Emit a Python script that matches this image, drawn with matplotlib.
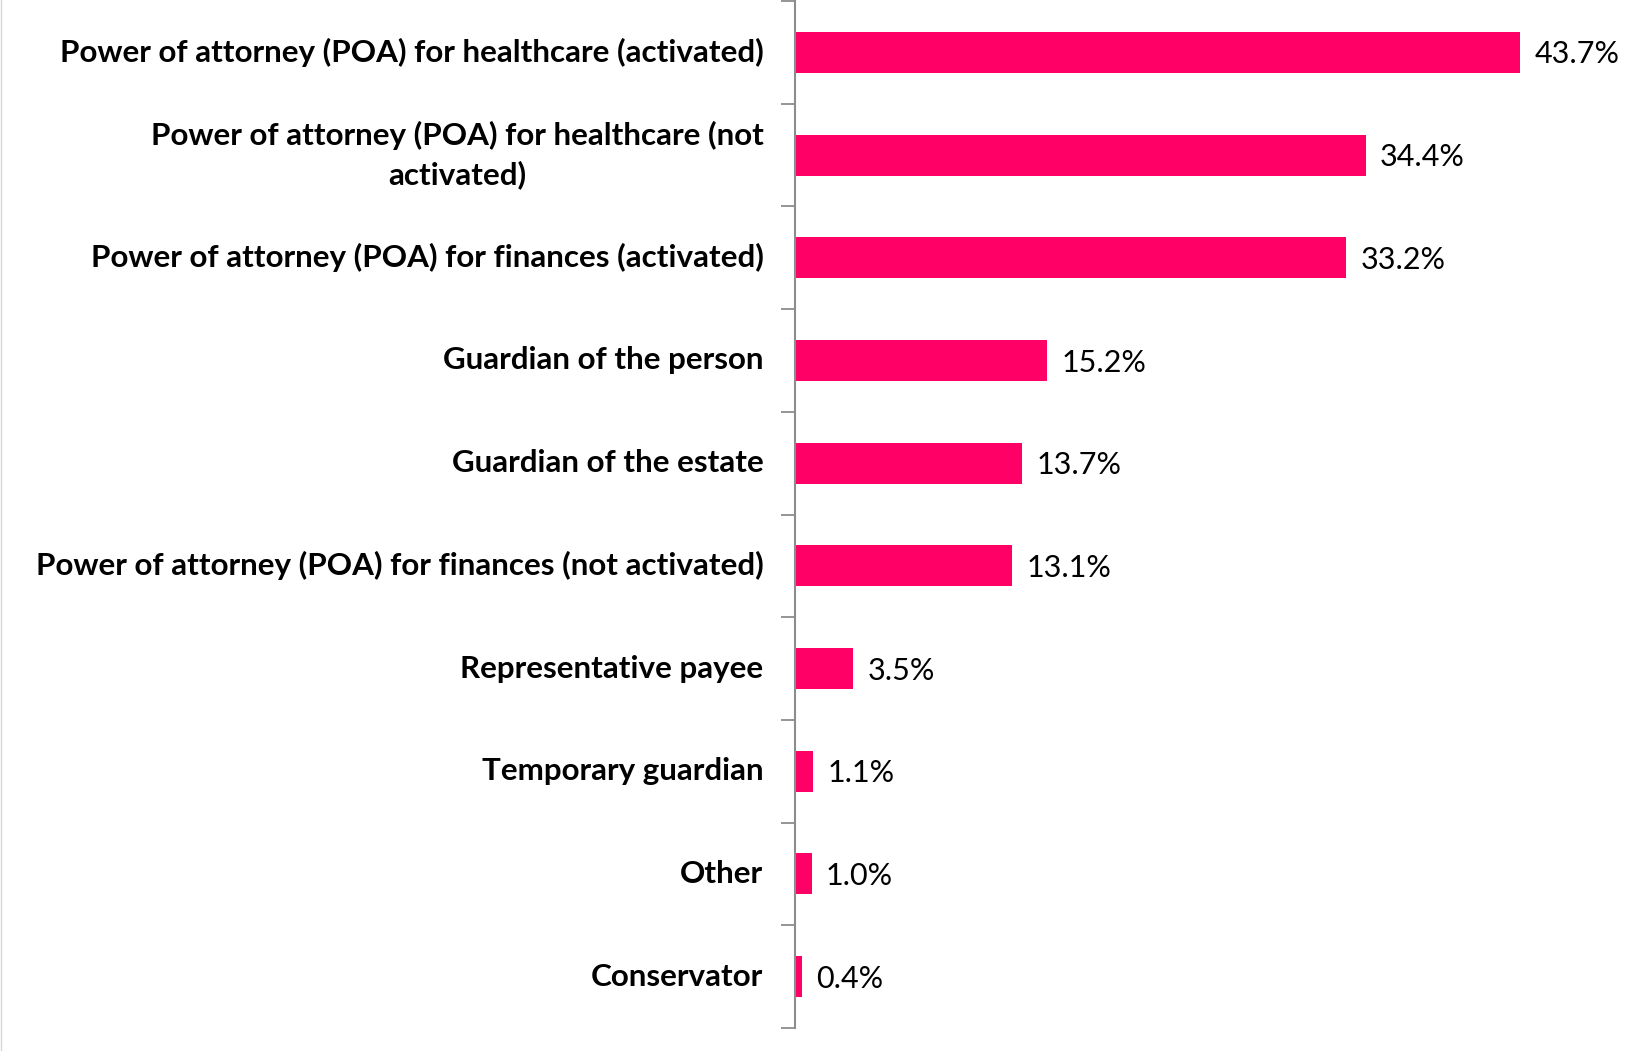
import matplotlib.pyplot as plt
import numpy as np

categories = [
    "Power of attorney (POA) for healthcare (activated)",
    "Power of attorney (POA) for healthcare (not\nactivated)",
    "Power of attorney (POA) for finances (activated)",
    "Guardian of the person",
    "Guardian of the estate",
    "Power of attorney (POA) for finances (not activated)",
    "Representative payee",
    "Temporary guardian",
    "Other",
    "Conservator",
]
values = [43.7, 34.4, 33.2, 15.2, 13.7, 13.1, 3.5, 1.1, 1.0, 0.4]

plt.rcParams['font.family'] = ['Lato', 'DejaVu Sans']

fig = plt.figure(figsize=(16.34, 10.51), dpi=100)
ax = fig.add_axes([795 / 1634, 1 - 1028 / 1051, 830 / 1634, 1027 / 1051])

y = np.arange(len(categories))
ax.barh(y, values, height=0.4, color='#FF0066')
ax.set_xlim(0, 50)
ax.set_ylim(len(categories) - 0.5, -0.5)

for yi, v in zip(y, values):
    ax.text(v + 0.85, yi + 0.02, f"{v:.1f}%", va='center', ha='left', fontsize=22, color='black')

for yi, lab in zip(y, categories):
    ax.text(-1.9, yi, lab, va='center', ha='right', multialignment='center',
            fontsize=22.6, fontweight='bold', color='black', linespacing=1.45)

ax.set_yticks(np.arange(-0.5, len(categories), 1.0))
ax.set_yticklabels([])
ax.tick_params(axis='y', length=10, width=1.3, color='#8c8c8c', direction='out')
ax.set_xticks([])
for s in ['top', 'right', 'bottom']:
    ax.spines[s].set_visible(False)
ax.spines['left'].set_color('#8c8c8c')
ax.spines['left'].set_linewidth(1.5)

fig.add_artist(plt.Line2D([0.0005, 0.0005], [0, 1], color='#d9d9d9', lw=1, transform=fig.transFigure))

fig.savefig('out.png', dpi=100)
